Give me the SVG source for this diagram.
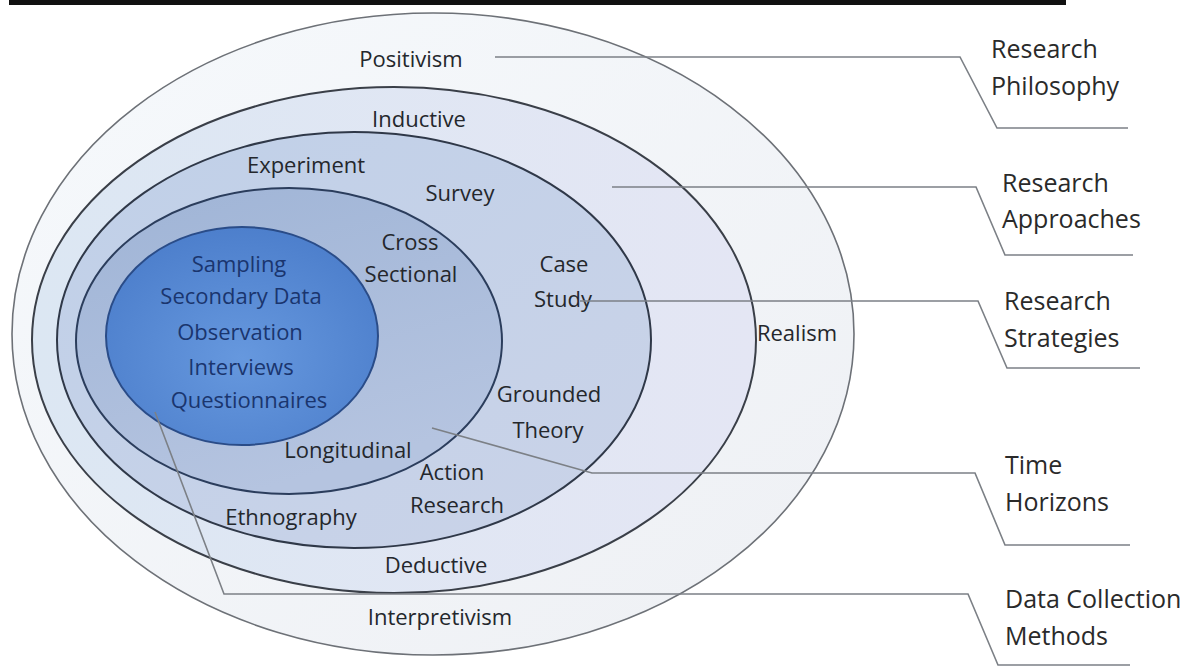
<svg xmlns="http://www.w3.org/2000/svg" width="1197" height="668" viewBox="0 0 1197 668">
  <defs>
    <linearGradient id="g1" x1="0" y1="0" x2="1" y2="1">
      <stop offset="0" stop-color="#f6f9fc"/>
      <stop offset="1" stop-color="#eef0f4"/>
    </linearGradient>
    <linearGradient id="g2" x1="0" y1="0" x2="1" y2="0">
      <stop offset="0" stop-color="#dce7f3"/>
      <stop offset="1" stop-color="#e4e6f4"/>
    </linearGradient>
    <linearGradient id="g3" x1="0" y1="0" x2="1" y2="1">
      <stop offset="0" stop-color="#c0d0e8"/>
      <stop offset="1" stop-color="#cad3e8"/>
    </linearGradient>
    <linearGradient id="g4" x1="0" y1="0" x2="0.4" y2="1">
      <stop offset="0" stop-color="#9fb4d6"/>
      <stop offset="1" stop-color="#b5c4e0"/>
    </linearGradient>
    <radialGradient id="g5" cx="0.5" cy="0.6" r="0.6">
      <stop offset="0" stop-color="#6698de"/>
      <stop offset="1" stop-color="#4d7fcc"/>
    </radialGradient>
    <style>
      .lbl { font-family: "Open Sans", "Noto Sans", sans-serif; font-size: 22px; fill: #24272c; text-anchor: middle; }
      .blue { fill: #1a356e; }
      .side { font-family: "Open Sans", "Noto Sans", sans-serif; font-size: 25px; fill: #2a2a2a; }
      .conn { fill: none; stroke: #7c8086; stroke-width: 1.6; }
    </style>
  </defs>

  <rect x="9" y="0" width="1057" height="5" fill="#111"/>

  <g id="philosophy">
    <ellipse cx="433" cy="334" rx="421" ry="321" fill="url(#g1)" stroke="#6d7177" stroke-width="1.6"/>
    <text class="lbl" x="411" y="67">Positivism</text>
    <text class="lbl" x="797" y="341">Realism</text>
    <text class="lbl" x="440" y="625">Interpretivism</text>
  </g>

  <g id="approaches">
    <ellipse cx="394" cy="340" rx="362" ry="253" fill="url(#g2)" stroke="#3a3f48" stroke-width="2"/>
    <text class="lbl" x="419" y="127">Inductive</text>
    <text class="lbl" x="436" y="573">Deductive</text>
  </g>

  <g id="strategies">
    <ellipse cx="354" cy="340" rx="297" ry="208" fill="url(#g3)" stroke="#2f3848" stroke-width="2"/>
    <text class="lbl" x="306" y="173">Experiment</text>
    <text class="lbl" x="460" y="201">Survey</text>
    <text class="lbl" x="564" y="272">Case</text>
    <text class="lbl" x="563" y="307">Study</text>
    <text class="lbl" x="549" y="402">Grounded</text>
    <text class="lbl" x="548" y="438">Theory</text>
    <text class="lbl" x="452" y="480">Action</text>
    <text class="lbl" x="457" y="513">Research</text>
    <text class="lbl" x="291" y="525">Ethnography</text>
  </g>

  <g id="time-horizons">
    <ellipse cx="289" cy="341" rx="213" ry="153" fill="url(#g4)" stroke="#2b3d5c" stroke-width="2"/>
    <text class="lbl" x="410" y="250">Cross</text>
    <text class="lbl" x="411" y="282">Sectional</text>
    <text class="lbl" x="348" y="458">Longitudinal</text>
  </g>

  <g id="data-collection">
    <ellipse cx="242" cy="336" rx="136" ry="109" fill="url(#g5)" stroke="#2a4c88" stroke-width="2"/>
    <text class="lbl blue" x="239" y="272">Sampling</text>
    <text class="lbl blue" x="241" y="304">Secondary Data</text>
    <text class="lbl blue" x="240" y="340">Observation</text>
    <text class="lbl blue" x="241" y="375">Interviews</text>
    <text class="lbl blue" x="249" y="408">Questionnaires</text>
  </g>

  <g id="connectors">
    <path class="conn" d="M495,57 H960 L997,128 H1128"/>
    <path class="conn" d="M612,187 H976 L1005,255 H1133"/>
    <path class="conn" d="M580,301 H978 L1007,368 H1140"/>
    <path class="conn" d="M432,428 L592,473 H975 L1005,545 H1130"/>
    <path class="conn" d="M155,412 L224,594 H968 L998,665 H1130"/>
  </g>

  <g id="side-labels">
    <text class="side" x="991" y="58">Research</text>
    <text class="side" x="991" y="95">Philosophy</text>
    <text class="side" x="1002" y="192">Research</text>
    <text class="side" x="1002" y="228">Approaches</text>
    <text class="side" x="1004" y="310">Research</text>
    <text class="side" x="1004" y="347">Strategies</text>
    <text class="side" x="1005" y="474">Time</text>
    <text class="side" x="1005" y="511">Horizons</text>
    <text class="side" x="1005" y="608">Data Collection</text>
    <text class="side" x="1005" y="645">Methods</text>
  </g>
</svg>
